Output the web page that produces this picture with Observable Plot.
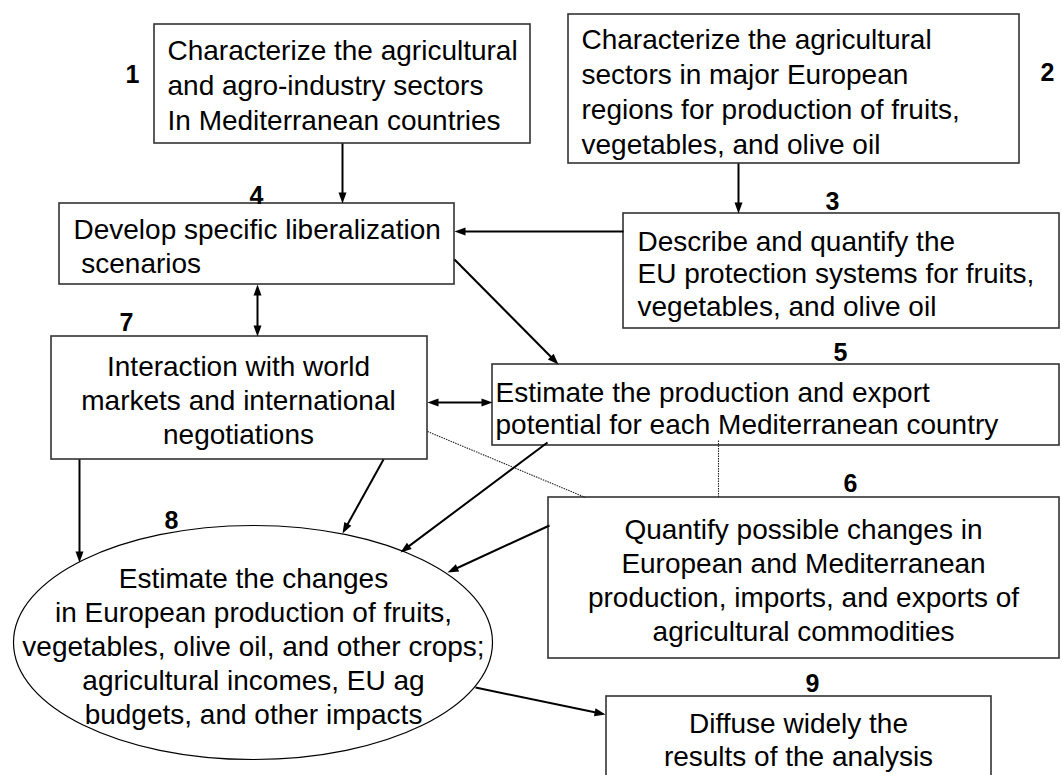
<!DOCTYPE html>
<html>
<head>
<meta charset="utf-8">
<script src="https://cdn.jsdelivr.net/npm/d3@7"></script>
<script src="https://cdn.jsdelivr.net/npm/@observablehq/plot@0.6"></script>
<style>
html,body{margin:0;padding:0;background:#fff;overflow:hidden;}
svg{display:block;}
</style>
</head>
<body>
<div id="chart"></div>
<script>
const W = 1062, H = 775;

// Rectangular steps (image pixel coordinates)
const boxIds = [1, 2, 3, 4, 5, 6, 7, 9];
const boxX1 = [154, 568, 623, 59, 492, 548, 51, 606];
const boxY1 = [24, 14, 213, 203, 364, 497, 336, 696];
const boxX2 = [530, 1019, 1059, 454, 1059, 1059, 427, 991];
const boxY2 = [143, 163, 328, 284, 445, 658, 459, 777];

// Elliptical step 8
const ellipse = [{id: 8, cx: 252.5, cy: 642, rx: 239.5, ry: 117}];

// Step texts
const stepText = [
  "Characterize the agricultural\nand agro-industry sectors\nIn Mediterranean countries",
  "Characterize the agricultural\nsectors in major European\nregions for production of fruits,\nvegetables, and olive oil",
  "Describe and quantify the\nEU protection systems for fruits,\nvegetables, and olive oil",
  "Develop specific liberalization\n\u00a0scenarios",
  "Estimate the production and export\npotential for each Mediterranean country",
  "Quantify possible changes in\nEuropean and Mediterranean\nproduction, imports, and exports of\nagricultural commodities",
  "Interaction with world\nmarkets and international\nnegotiations",
  "Estimate the changes\nin European production of fruits,\nvegetables, olive oil, and other crops;\nagricultural incomes, EU ag\nbudgets, and other impacts",
  "Diffuse widely the\nresults of the analysis"
];
const textX = [167, 581, 637, 73, 495, 803, 238, 253, 798];
const textY = [83.5, 89.5, 272.5, 245, 407.5, 579, 399, 645, 738];
const textAnchor = ["start", "start", "start", "start", "start", "middle", "middle", "middle", "middle"];
const textLead = [35, 35, 32.5, 34, 31.5, 34, 34, 34, 33];

// Step number labels
const labelText = ["1", "2", "3", "4", "5", "6", "7", "8", "9"];
const labelX = [132, 1047, 832, 256, 840, 850, 126, 171, 812];
const labelY = [74, 72, 201, 195, 352, 483, 322, 520, 683];

// Arrows: start, end, heads
const arrowX1 = [342, 738, 623, 454, 257, 427, 79, 383, 547, 549, 475];
const arrowY1 = [143, 163, 231, 259, 284, 402, 459, 459, 442, 525, 687];
const arrowX2 = [342, 738, 454, 558, 257, 492, 79, 342, 400, 447, 605];
const arrowY2 = [203, 213, 231, 364, 336, 402, 562, 533, 552, 572, 714];
const arrowBoth = [false, false, false, false, true, true, false, false, false, false, false];

// Dotted links
const dotX1 = [427, 718];
const dotY1 = [431, 440];
const dotX2 = [585, 718];
const dotY2 = [497, 497];

// ---- build tables
const boxes = boxIds.map((id, i) => ({id, x1: boxX1[i], y1: boxY1[i], x2: boxX2[i], y2: boxY2[i]}));
const labels = labelText.map((t, i) => ({t, x: labelX[i], y: labelY[i]}));
const dots = dotX1.map((_, i) => ({x1: dotX1[i], y1: dotY1[i], x2: dotX2[i], y2: dotY2[i]}));

const HEAD = 11, HW = 8, TRIM = 6;
const shafts = [], heads = [];
arrowX1.forEach((_, i) => {
  let x1 = arrowX1[i], y1 = arrowY1[i], x2 = arrowX2[i], y2 = arrowY2[i];
  const dx = x2 - x1, dy = y2 - y1, len = Math.hypot(dx, dy);
  const ux = dx / len, uy = dy / len;
  heads.push({x: x2, y: y2, rot: Math.atan2(dx, -dy) * 180 / Math.PI});
  let sx1 = x1, sy1 = y1;
  if (arrowBoth[i]) {
    heads.push({x: x1, y: y1, rot: Math.atan2(-dx, dy) * 180 / Math.PI});
    sx1 = x1 + ux * TRIM; sy1 = y1 + uy * TRIM;
  }
  shafts.push({x1: sx1, y1: sy1, x2: x2 - ux * TRIM, y2: y2 - uy * TRIM});
});

const headSymbol = {
  draw(ctx) {
    ctx.moveTo(0, 0);
    ctx.lineTo(-HW / 2, HEAD);
    ctx.lineTo(HW / 2, HEAD);
    ctx.closePath();
  }
};
const e = ellipse[0];
const ellipseSymbol = {
  draw(ctx) {
    const k = 0.5522847, rx = e.rx, ry = e.ry;
    ctx.moveTo(rx, 0);
    ctx.bezierCurveTo(rx, ry * k, rx * k, ry, 0, ry);
    ctx.bezierCurveTo(-rx * k, ry, -rx, ry * k, -rx, 0);
    ctx.bezierCurveTo(-rx, -ry * k, -rx * k, -ry, 0, -ry);
    ctx.bezierCurveTo(rx * k, -ry, rx, -ry * k, rx, 0);
    ctx.closePath();
  }
};

const font = "'Liberation Sans', Arial, Helvetica, sans-serif";
const textMarks = stepText.map((t, i) => Plot.text([{t, x: textX[i], y: textY[i]}], {
  x: "x", y: "y", text: "t",
  textAnchor: textAnchor[i], lineAnchor: "middle",
  lineHeight: textLead[i] / 28,
  fontSize: 28, fill: "#000"
}));

const chart = Plot.plot({
  width: W, height: H,
  marginTop: 0, marginRight: 0, marginBottom: 0, marginLeft: 0,
  x: {domain: [0, W], range: [0, W], axis: null},
  y: {domain: [0, H], range: [0, H], axis: null},
  style: {fontFamily: font, background: "#fff", overflow: "hidden"},
  marks: [
    Plot.rect(boxes, {x1: "x1", x2: "x2", y1: "y1", y2: "y2", fill: "#fff", stroke: "#333", strokeWidth: 1.6}),
    Plot.dot(ellipse, {x: "cx", y: "cy", r: 10, symbol: ellipseSymbol, fill: "#fff", stroke: "#000", strokeWidth: 1.2}),
    Plot.link(dots, {x1: "x1", y1: "y1", x2: "x2", y2: "y2", stroke: "#222", strokeWidth: 1.1, strokeDasharray: "1.5,1"}),
    Plot.link(shafts, {x1: "x1", y1: "y1", x2: "x2", y2: "y2", stroke: "#000", strokeWidth: 2}),
    Plot.dot(heads, {x: "x", y: "y", r: 5, rotate: "rot", symbol: headSymbol, fill: "#000", stroke: "none"}),
    ...textMarks,
    Plot.text(labels, {x: "x", y: "y", text: "t", fontSize: 25, fontWeight: "bold", fill: "#000"})
  ]
});
document.getElementById("chart").appendChild(chart);
</script>
</body>
</html>
